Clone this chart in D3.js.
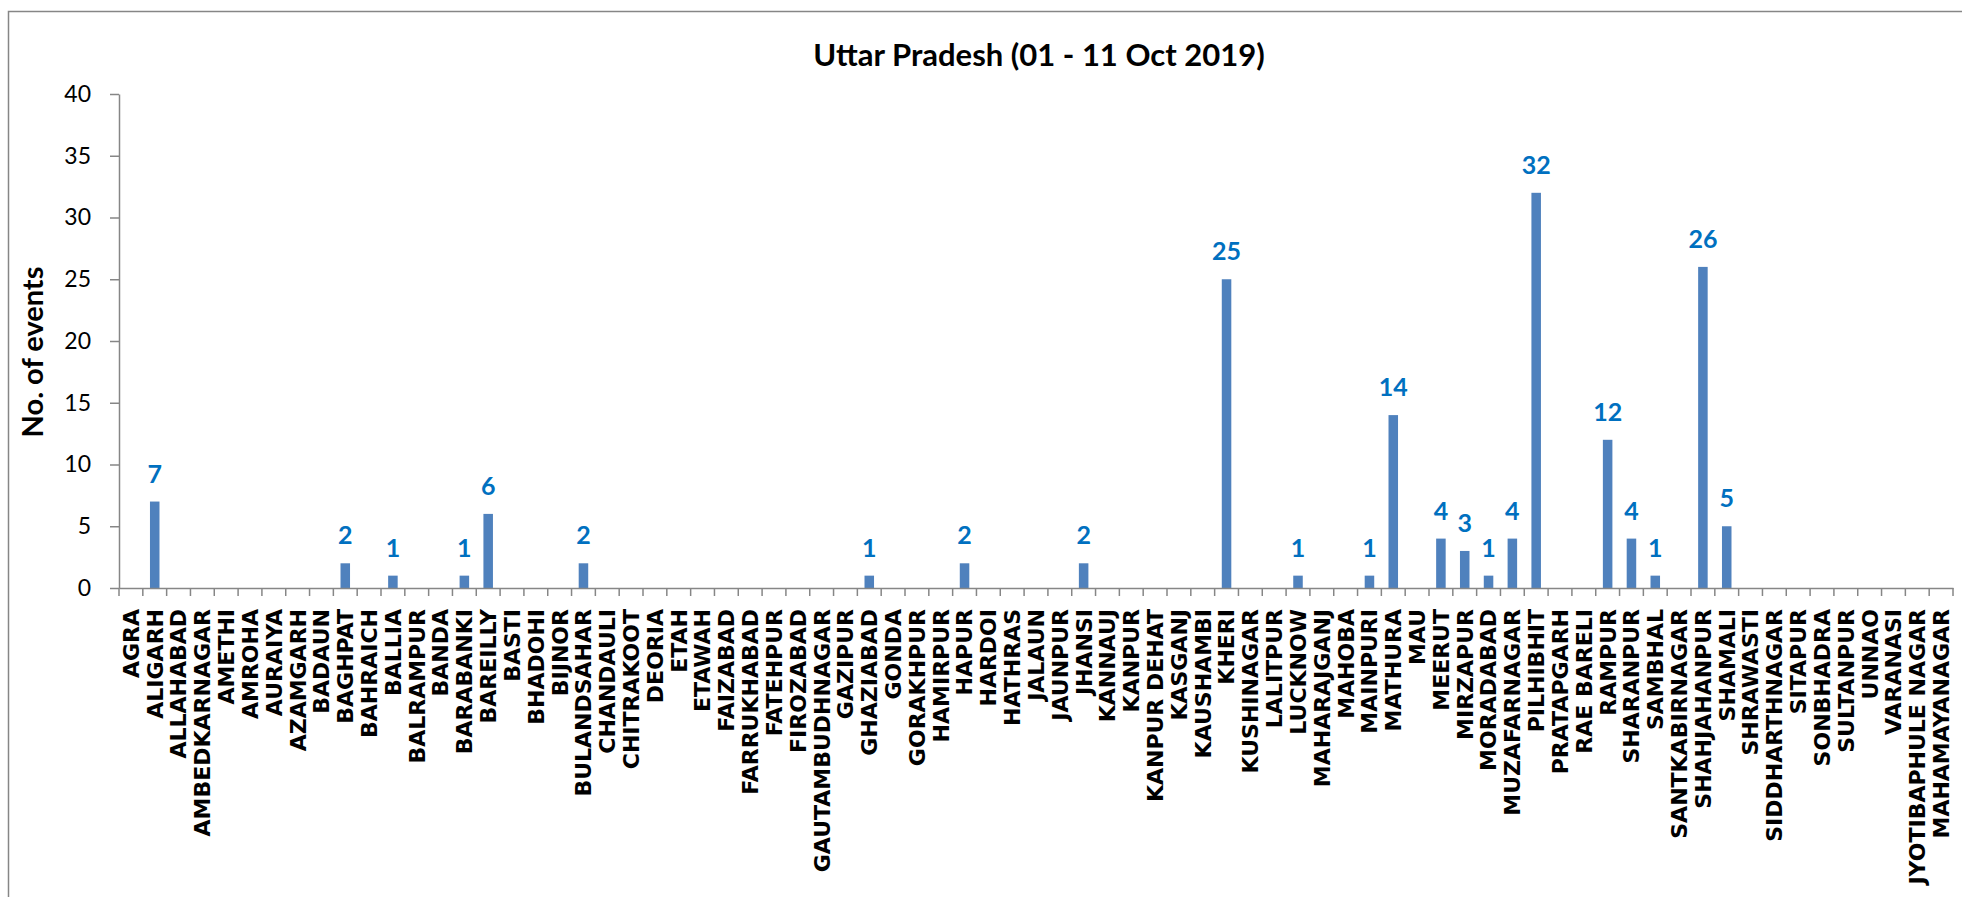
<!DOCTYPE html>
<html>
<head>
<meta charset="utf-8">
<title>Uttar Pradesh (01 - 11 Oct 2019)</title>
<script src="https://cdn.jsdelivr.net/npm/d3@7"></script>
<style>
    body { margin: 0; background: #fff; }
</style>
</head>
<body>
<script>
// districts, left to right
const districts = [
    'AGRA', 'ALIGARH', 'ALLAHABAD', 'AMBEDKARNAGAR', 'AMETHI', 'AMROHA', 'AURAIYA',
    'AZAMGARH', 'BADAUN', 'BAGHPAT', 'BAHRAICH', 'BALLIA', 'BALRAMPUR', 'BANDA',
    'BARABANKI', 'BAREILLY', 'BASTI', 'BHADOHI', 'BIJNOR', 'BULANDSAHAR', 'CHANDAULI',
    'CHITRAKOOT', 'DEORIA', 'ETAH', 'ETAWAH', 'FAIZABAD', 'FARRUKHABAD', 'FATEHPUR',
    'FIROZABAD', 'GAUTAMBUDHNAGAR', 'GAZIPUR', 'GHAZIABAD', 'GONDA', 'GORAKHPUR',
    'HAMIRPUR', 'HAPUR', 'HARDOI', 'HATHRAS', 'JALAUN', 'JAUNPUR', 'JHANSI', 'KANNAUJ',
    'KANPUR', 'KANPUR DEHAT', 'KASGANJ', 'KAUSHAMBI', 'KHERI', 'KUSHINAGAR', 'LALITPUR',
    'LUCKNOW', 'MAHARAJGANJ', 'MAHOBA', 'MAINPURI', 'MATHURA', 'MAU', 'MEERUT',
    'MIRZAPUR', 'MORADABAD', 'MUZAFARNAGAR', 'PILHIBHIT', 'PRATAPGARH', 'RAE BARELI',
    'RAMPUR', 'SHARANPUR', 'SAMBHAL', 'SANTKABIRNAGAR', 'SHAHJAHANPUR', 'SHAMALI',
    'SHRAWASTI', 'SIDDHARTHNAGAR', 'SITAPUR', 'SONBHADRA', 'SULTANPUR', 'UNNAO',
    'VARANASI', 'JYOTIBAPHULE NAGAR', 'MAHAMAYANAGAR'
];

// no. of events per district
const events = [
    0, 7, 0, 0, 0, 0, 0,
    0, 0, 2, 0, 1, 0, 0,
    1, 6, 0, 0, 0, 2, 0,
    0, 0, 0, 0, 0, 0, 0,
    0, 0, 0, 1, 0, 0,
    0, 2, 0, 0, 0, 0, 2, 0,
    0, 0, 0, 0, 25, 0, 0,
    1, 0, 0, 1, 14, 0, 4,
    3, 1, 4, 32, 0, 0,
    12, 4, 1, 0, 26, 5,
    0, 0, 0, 0, 0, 0,
    0, 0, 0
];

const yTicks = [0, 5, 10, 15, 20, 25, 30, 35, 40];

const title = 'Uttar Pradesh (01 - 11 Oct 2019)';
const yTitle = 'No. of events';

const width = 1962;
const height = 897;

// plot area
const plot = { left: 119, right: 1953, top: 94, bottom: 588 };

const axisColor = '#868686';
const barColor = '#4F81BD';
const labelColor = '#0070C0';

const data = districts.map((d, i) => ({ name: d, value: events[i] }));

const svg = d3.select('body')
    .append('svg')
    .attr('width', width)
    .attr('height', height);

// chart border
svg.append('rect')
    .attr('x', 8.5)
    .attr('y', 11.5)
    .attr('width', width + 20)
    .attr('height', height + 20)
    .attr('fill', '#fff')
    .attr('stroke', axisColor)
    .attr('stroke-width', 1.5);

const xScale = d3.scaleBand()
    .domain(districts)
    .range([plot.left, plot.right])
    .padding(0);

const yScale = d3.scaleLinear()
    .domain([0, 40])
    .range([plot.bottom, plot.top]);

// title
svg.append('text')
    .attr('x', 1039)
    .attr('y', 66)
    .attr('text-anchor', 'middle')
    .style('font-family', 'Lato, sans-serif')
    .style('font-weight', 'bold')
    .style('font-size', '31px')
    .text(title);

// y axis
const yAxis = d3.axisLeft(yScale)
    .tickValues(yTicks)
    .tickSize(9)
    .tickSizeOuter(0)
    .tickPadding(19);

const gy = svg.append('g')
    .attr('transform', 'translate(' + plot.left + ', 0)')
    .call(yAxis);

gy.selectAll('path, line')
    .attr('stroke', axisColor)
    .attr('stroke-width', 1.5);

gy.selectAll('text')
    .attr('fill', '#000')
    .style('font-family', 'Lato, sans-serif')
    .style('font-size', '23px');

// y title
svg.append('text')
    .attr('transform', 'translate(43, ' + 352 + ') rotate(-90)')
    .attr('text-anchor', 'middle')
    .style('font-family', 'Lato, sans-serif')
    .style('font-weight', 'bold')
    .style('font-size', '29px')
    .text(yTitle);

// bars
svg.selectAll('rect.bar')
    .data(data)
    .enter()
    .append('rect')
    .attr('class', 'bar')
    .attr('x', d => xScale(d.name) + xScale.bandwidth() * 0.3)
    .attr('width', xScale.bandwidth() * 0.4)
    .attr('y', d => yScale(d.value))
    .attr('height', d => yScale(0) - yScale(d.value))
    .attr('fill', barColor);

// x axis (labels only, ticks drawn at category edges below)
const xAxis = d3.axisBottom(xScale)
    .tickSize(0)
    .tickSizeOuter(0);

const gx = svg.append('g')
    .attr('transform', 'translate(0, ' + plot.bottom + ')')
    .call(xAxis);

gx.select('.domain')
    .attr('stroke', axisColor)
    .attr('stroke-width', 1.5);

gx.selectAll('text')
    .attr('transform', 'rotate(-90)')
    .attr('x', -21)
    .attr('y', 0)
    .attr('dy', '0.36em')
    .attr('fill', '#000')
    .style('text-anchor', 'end')
    .style('font-family', '"DejaVu Sans", sans-serif')
    .style('font-weight', 'bold')
    .style('font-size', '22px');

// category edge ticks
const edges = districts.map(d => xScale(d)).concat([plot.right]);

svg.append('g')
    .selectAll('line')
    .data(edges)
    .enter()
    .append('line')
    .attr('x1', d => d)
    .attr('x2', d => d)
    .attr('y1', plot.bottom)
    .attr('y2', plot.bottom + 8)
    .attr('stroke', axisColor)
    .attr('stroke-width', 1.5);

// value labels
svg.selectAll('text.value')
    .data(data.filter(d => d.value > 0))
    .enter()
    .append('text')
    .attr('class', 'value')
    .attr('x', d => xScale(d.name) + xScale.bandwidth() / 2)
    .attr('y', d => yScale(d.value) - 19)
    .attr('text-anchor', 'middle')
    .attr('fill', labelColor)
    .style('font-family', 'Lato, sans-serif')
    .style('font-weight', 'bold')
    .style('font-size', '25px')
    .text(d => d.value);
</script>
</body>
</html>
